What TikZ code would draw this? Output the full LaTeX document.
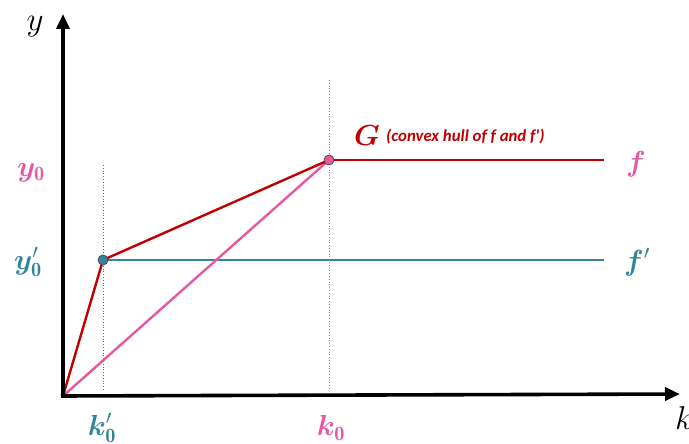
\RequirePackage{fix-cm}
\documentclass[tikz,border=0pt]{standalone}
\usepackage{amsmath,bm}
\usepackage{fontspec}
\newfontfamily\carlito{Carlito}
\usetikzlibrary{arrows.meta}
\definecolor{cred}{RGB}{192,0,0}
\definecolor{cpink}{RGB}{230,88,160}
\definecolor{cteal}{RGB}{49,133,156}
\tikzset{
  axis/.style={line width=3.6pt,-{Triangle[length=15pt,width=13pt]}},
  curve/.style={line width=2.4pt},
  guide/.style={line width=0.8pt,dotted},
  lbl/.style={inner sep=0pt,font=\fontsize{29}{31}\selectfont},
  axlbl/.style={inner sep=0pt,font=\fontsize{33}{35}\selectfont},
  dotpt/.style={circle,inner sep=0pt,minimum size=10pt,draw=black!70,line width=0.8pt}
}
\begin{document}
\begin{tikzpicture}[x=1pt,y=-1pt]
\useasboundingbox (0,0) rectangle (689,444);
\coordinate (O) at (63,396);
\coordinate (ytip) at (63,14);
\coordinate (xtip) at (680,394);
\coordinate (A) at (103,260);
\coordinate (B) at (329,160);
\coordinate (fend) at (604,160);
\coordinate (fpend) at (604,260);
\coordinate (Atop) at (103,165);
\coordinate (Abot) at (103,390);
\coordinate (Btop) at (329,80);
\coordinate (Bbot) at (329,390);
% guides
\draw[guide,black!60] (Atop) -- (Abot);
\draw[guide,cpink] (Btop) -- (Bbot);
% curves
\draw[curve,cteal] (A) -- (fpend);
\draw[curve,cpink] (O) -- (B);
\draw[curve,cred] (B) -- (fend);
\draw[curve,cred,line join=round] (O) -- (A) -- (B);
% axes
\draw[axis] (O) ++(0,2) -- (ytip);
\draw[axis] (O) ++(-2,0) -- (xtip);
% dots
\node[dotpt,fill=cteal] (dA) at (A) {};
\node[dotpt,fill=cpink] (dB) at (B) {};
% labels
\node[axlbl] (ylab) at (35,27) {$y$};
\node[axlbl,anchor=west] (klab) at (675,418) {$k$};
\node[lbl,text=cpink] (y0) at (31,173) {$\bm{y}_{\mathbf{0}}$};
\node[lbl,text=cteal] (y0p) at (28,262) {$\bm{y}'_{\mathbf{0}}$};
\node[lbl,text=cteal] (k0p) at (102,428) {$\bm{k}'_{\mathbf{0}}$};
\node[lbl,text=cpink] (k0) at (331,428) {$\bm{k}_{\mathbf{0}}$};
\node[lbl,text=cpink] (flab) at (636,164) {$\bm{f}$};
\node[lbl,text=cteal] (fplab) at (637,262) {$\bm{f}'$};
\node[lbl,text=cred] (G) at (367,136) {$\bm{G}$};
\node[inner sep=0pt,anchor=west,text=cred,font=\carlito\bfseries\itshape\fontsize{16.8}{18}\selectfont] (hull) at (386,137) {(convex hull of \textit{f} and \textit{f'})};
\end{tikzpicture}
\end{document}
